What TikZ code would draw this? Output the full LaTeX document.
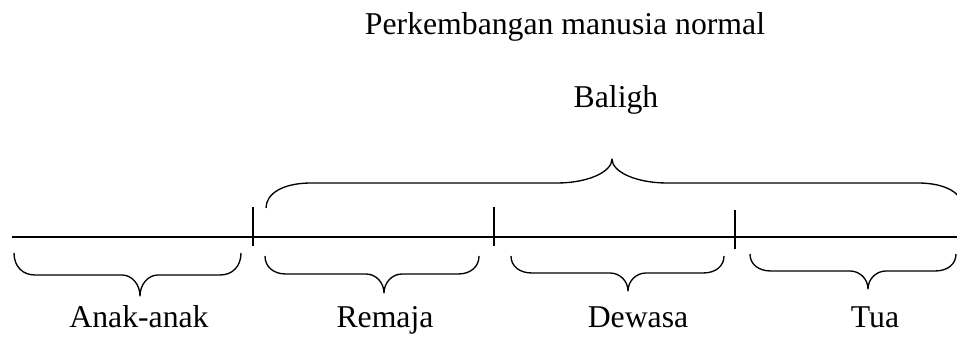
\documentclass[tikz,border=0pt]{standalone}
\usepackage{fontspec}
\setmainfont{Liberation Serif}
\newcommand\mybrace[8]{%
  % #1 x1, #2 x2, #3 xt, #4 y0 (ends), #5 y1 (flat), #6 y2 (tip), #7 corner r, #8 tip r
  \draw[bracestyle] (#1,#4) .. controls (#1,{#4+0.6*(#5-#4)}) and ({#1+0.4*#7},#5) .. ({#1+#7},#5)
    -- ({#3-#8},#5) .. controls ({#3-0.45*#8},#5) and (#3,{#5+0.45*(#6-#5)}) .. (#3,#6)
    .. controls (#3,{#5+0.45*(#6-#5)}) and ({#3+0.45*#8},#5) .. ({#3+#8},#5)
    -- ({#2-#7},#5) .. controls ({#2-0.4*#7},#5) and (#2,{#4+0.6*(#5-#4)}) .. (#2,#4);}
\begin{document}
\begin{tikzpicture}[x=0.75pt,y=-0.75pt,
  bracestyle/.style={line width=1pt,line join=round},
  axisline/.style={line width=1pt},
  label/.style={anchor=base,inner sep=0pt,font=\fontsize{23.8}{28}\selectfont}]
\useasboundingbox (0,0) rectangle (957,338);
\fill[white] (0,0) rectangle (957,338);
% titles
\node[label] (title) at (565,35) {Perkembangan manusia normal};
\node[label] (baligh) at (616,108) {Baligh};
% main timeline
\coordinate (lstart) at (12,237);
\coordinate (lend) at (957,237);
\draw[axisline] (lstart) -- (lend);
% ticks
\draw[axisline] (253,207) -- (253,246);
\draw[axisline] (494,207) -- (494,246);
\draw[axisline] (735,210) -- (735,249);
% Baligh brace (upward)
\begin{scope}
\clip (0,0) rectangle (957,338);
\mybrace{266}{963}{612}{208}{183}{159}{45}{55}
\end{scope}
% lower braces
\mybrace{14}{241}{140}{253}{275}{296}{21}{18}
\mybrace{265}{479}{384}{256}{274}{293}{21}{18}
\mybrace{511}{724}{628}{256}{273}{291}{21}{18}
\mybrace{750}{956}{868}{254}{271}{289}{21}{18}
% lower labels
\node[label] (anak) at (139,328) {Anak-anak};
\node[label] (remaja) at (385,328) {Remaja};
\node[label] (dewasa) at (638,328) {Dewasa};
\node[label] (tua) at (875,328) {Tua};
\end{tikzpicture}
\end{document}
